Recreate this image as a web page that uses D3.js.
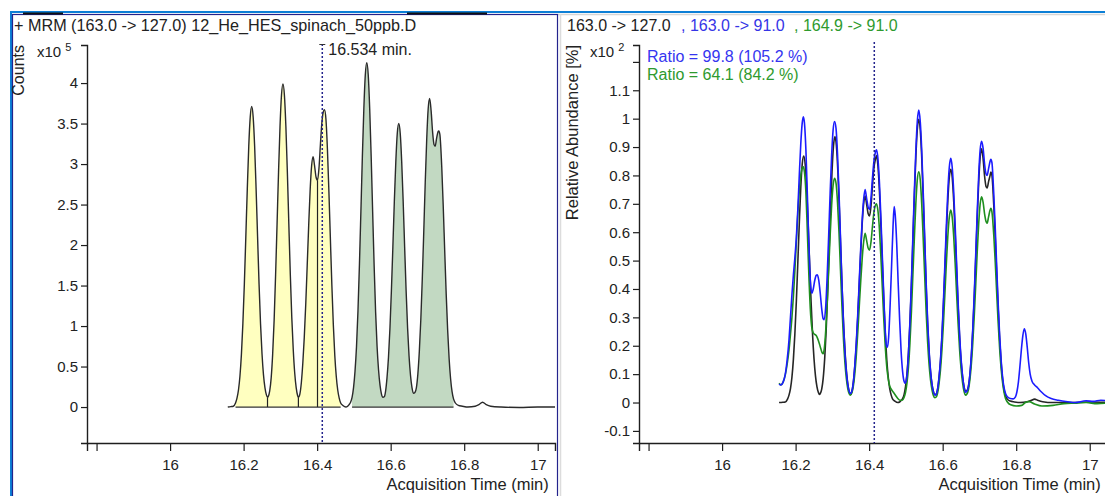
<!DOCTYPE html>
<html><head><meta charset="utf-8">
<script src="https://cdn.jsdelivr.net/npm/d3@7"></script>
<style>
html,body{margin:0;padding:0;background:#fff;}
svg{display:block;font-family:"Liberation Sans",Arial,sans-serif;}
</style></head><body>
<svg id="chart" width="1105" height="496"></svg>
<script>
// ---- Quantifier transition 163.0 -> 127.0, counts (x10^5) vs acquisition time (min)
const countsTrace = [
  [16.157,0.00],[16.165,0.005],[16.172,0.01],[16.178,0.05],[16.182,0.11],[16.186,0.21],[16.190,0.38],
  [16.194,0.65],[16.198,1.03],[16.202,1.52],[16.206,2.10],[16.210,2.69],[16.214,3.22],[16.218,3.58],
  [16.222,3.71],[16.226,3.58],[16.230,3.22],[16.234,2.69],[16.238,2.10],[16.242,1.52],[16.246,1.03],
  [16.250,0.66],[16.254,0.40],[16.258,0.24],[16.262,0.15],[16.265,0.12],
  [16.267,0.13],[16.271,0.20],[16.275,0.36],[16.279,0.65],[16.283,1.07],[16.287,1.63],[16.291,2.26],
  [16.295,2.90],[16.299,3.46],[16.303,3.85],[16.307,3.99],[16.311,3.85],[16.315,3.46],[16.319,2.90],
  [16.323,2.26],[16.327,1.64],[16.331,1.11],[16.335,0.71],[16.339,0.42],[16.343,0.24],[16.347,0.14],
  [16.349,0.12],[16.353,0.16],[16.357,0.30],[16.361,0.54],[16.365,0.86],[16.369,1.27],[16.373,1.75],
  [16.377,2.24],[16.381,2.68],[16.385,2.98],[16.389,3.09],[16.393,2.98],[16.397,2.84],[16.401,2.80],
  [16.405,2.95],[16.409,3.25],[16.413,3.52],[16.417,3.65],[16.420,3.67],[16.424,3.55],[16.428,3.18],
  [16.432,2.66],[16.436,2.08],[16.440,1.51],[16.444,1.02],[16.448,0.64],[16.452,0.38],[16.456,0.21],
  [16.460,0.11],[16.464,0.05],[16.470,0.02],[16.478,0.00],
  [16.483,0.01],[16.487,0.03],[16.491,0.06],[16.495,0.12],[16.499,0.24],[16.503,0.44],[16.507,0.74],
  [16.511,1.18],[16.515,1.75],[16.519,2.41],[16.523,3.09],[16.527,3.68],[16.531,4.10],[16.535,4.25],
  [16.539,4.10],[16.543,3.68],[16.547,3.09],[16.551,2.41],[16.555,1.75],[16.559,1.18],[16.563,0.75],
  [16.567,0.46],[16.571,0.27],[16.575,0.16],[16.579,0.12],
  [16.583,0.13],[16.586,0.19],[16.590,0.36],[16.594,0.61],[16.598,0.97],[16.602,1.44],[16.606,1.98],
  [16.610,2.54],[16.614,3.03],[16.618,3.38],[16.622,3.50],[16.626,3.38],[16.630,3.03],[16.634,2.54],
  [16.638,1.98],[16.642,1.44],[16.646,0.98],[16.650,0.63],[16.654,0.39],[16.658,0.24],[16.662,0.17],
  [16.666,0.18],[16.670,0.24],[16.674,0.41],[16.678,0.69],[16.682,1.08],[16.686,1.58],[16.690,2.16],
  [16.694,2.77],[16.698,3.30],[16.702,3.68],[16.706,3.81],[16.710,3.66],[16.714,3.40],[16.718,3.24],
  [16.721,3.22],[16.725,3.32],[16.729,3.40],[16.731,3.41],[16.734,3.36],[16.739,2.96],[16.743,2.48],
  [16.747,1.93],[16.751,1.40],[16.755,0.95],[16.759,0.60],[16.763,0.35],[16.767,0.19],[16.771,0.10],
  [16.776,0.05],[16.784,0.02],[16.795,0.01],[16.810,0.00],[16.830,0.01],[16.840,0.03],[16.850,0.06],
  [16.860,0.03],[16.872,0.01],[16.900,0.00],[16.950,-0.005],[17.000,0.00],[17.047,0.00]
];

// integrated regions (start, end) and drop-line split times
const groupA = [16.178, 16.464];
const groupB = [16.495, 16.771];
const dropTimes = [16.265, 16.349, 16.401];

const countsTicks = [0,0.5,1,1.5,2,2.5,3,3.5,4];
const countsTickLabels = ["0","0.5","1","1.5","2","2.5","3","3.5","4"];
const timeTicks = [15.8,16,16.2,16.4,16.6,16.8,17];
const timeTickLabels = ["","16","16.2","16.4","16.6","16.8","17"];
const abundanceTicks = [-0.1,0,0.1,0.2,0.3,0.4,0.5,0.6,0.7,0.8,0.9,1,1.1,1.2];
const abundanceTickLabels = ["-0.1","0","0.1","0.2","0.3","0.4","0.5","0.6","0.7","0.8","0.9","1","1.1",""];

const markerTime = 16.414;
const retentionLabel = "16.534 min.";
const sampleTitle = "+ MRM (163.0 -> 127.0) 12_He_HES_spinach_50ppb.D";
const transitions = ["163.0 -> 127.0", ", 163.0 -> 91.0", ", 164.9 -> 91.0"];
const ratioLabels = ["Ratio = 99.8 (105.2 %)", "Ratio = 64.1 (84.2 %)"];

// ---- Relative abundance (x10^2 %) of the three transitions
const quantRel = [
  [16.155,0.000],[16.165,0.001],[16.172,0.002],[16.178,0.012],[16.182,0.026],[16.186,0.049],[16.190,0.089],
  [16.194,0.153],[16.198,0.242],[16.202,0.357],[16.206,0.493],[16.210,0.631],[16.214,0.756],[16.218,0.840],
  [16.222,0.868],[16.226,0.840],[16.230,0.756],[16.234,0.631],[16.238,0.493],[16.242,0.357],[16.246,0.242],
  [16.250,0.155],[16.254,0.094],[16.258,0.056],[16.262,0.035],[16.265,0.028],
  [16.267,0.031],[16.271,0.047],[16.275,0.085],[16.279,0.153],[16.283,0.251],[16.287,0.383],[16.291,0.531],
  [16.295,0.681],[16.299,0.812],[16.303,0.904],[16.307,0.937],[16.311,0.904],[16.315,0.812],[16.319,0.681],
  [16.323,0.531],[16.327,0.385],[16.331,0.261],[16.335,0.167],[16.339,0.099],[16.343,0.056],[16.347,0.033],
  [16.349,0.028],[16.353,0.038],[16.357,0.070],[16.361,0.127],[16.365,0.202],[16.369,0.298],[16.373,0.411],
  [16.377,0.526],[16.381,0.629],[16.385,0.700],[16.389,0.727],[16.393,0.700],[16.397,0.667],[16.401,0.657],
  [16.405,0.692],[16.409,0.763],[16.413,0.826],[16.417,0.857],[16.420,0.870],[16.424,0.833],[16.428,0.746],
  [16.432,0.624],[16.436,0.488],[16.440,0.354],[16.444,0.239],[16.448,0.150],[16.452,0.089],[16.456,0.049],
  [16.460,0.026],[16.464,0.012],[16.470,0.005],[16.478,0.000],
  [16.483,0.002],[16.487,0.007],[16.491,0.014],[16.495,0.028],[16.499,0.056],[16.503,0.103],[16.507,0.174],
  [16.511,0.277],[16.515,0.411],[16.519,0.566],[16.523,0.725],[16.527,0.864],[16.531,0.962],[16.535,0.998],
  [16.539,0.962],[16.543,0.864],[16.547,0.725],[16.551,0.566],[16.555,0.411],[16.559,0.277],[16.563,0.176],
  [16.567,0.108],[16.571,0.063],[16.575,0.038],[16.579,0.028],
  [16.583,0.031],[16.586,0.045],[16.590,0.085],[16.594,0.143],[16.598,0.228],[16.602,0.338],[16.606,0.465],
  [16.610,0.596],[16.614,0.711],[16.618,0.793],[16.622,0.822],[16.626,0.793],[16.630,0.711],[16.634,0.596],
  [16.638,0.465],[16.642,0.338],[16.646,0.230],[16.650,0.148],[16.654,0.092],[16.658,0.056],[16.662,0.040],
  [16.666,0.042],[16.670,0.056],[16.674,0.096],[16.678,0.162],[16.682,0.254],[16.686,0.371],[16.690,0.507],
  [16.694,0.650],[16.698,0.775],[16.702,0.864],[16.706,0.894],[16.710,0.859],[16.714,0.798],[16.718,0.761],
  [16.721,0.756],[16.725,0.779],[16.729,0.800],[16.731,0.812],[16.734,0.800],[16.739,0.695],[16.743,0.582],
  [16.747,0.453],[16.751,0.329],[16.755,0.223],[16.759,0.141],[16.763,0.082],[16.767,0.045],[16.771,0.023],
  [16.776,0.012],[16.784,0.005],[16.795,0.002],[16.810,0.000],[16.830,0.003],[16.840,0.007],[16.850,0.012],
  [16.860,0.007],[16.872,0.003],[16.900,0.000],[16.950,0.000],[17.000,0.002],[17.050,0.000]
];

const qual1Rel = [
  [16.155,0.065],[16.160,0.062],[16.166,0.072],[16.172,0.100],[16.177,0.150],[16.182,0.220],[16.186,0.300],
  [16.190,0.380],[16.194,0.450],[16.198,0.510],[16.202,0.580],[16.206,0.680],[16.210,0.800],[16.214,0.910],
  [16.218,0.985],[16.221,1.007],[16.224,0.985],[16.228,0.890],[16.232,0.730],[16.236,0.560],[16.240,0.430],
  [16.244,0.385],[16.248,0.400],[16.252,0.430],[16.256,0.448],[16.259,0.450],[16.263,0.430],[16.267,0.385],
  [16.271,0.330],[16.275,0.295],[16.278,0.292],
  [16.282,0.340],[16.286,0.450],[16.290,0.590],[16.294,0.740],[16.298,0.870],[16.302,0.960],[16.306,0.990],
  [16.310,0.965],[16.314,0.875],[16.318,0.740],[16.322,0.580],[16.326,0.420],[16.330,0.285],[16.334,0.180],
  [16.338,0.108],[16.342,0.062],[16.346,0.038],[16.349,0.032],
  [16.353,0.040],[16.357,0.072],[16.361,0.130],[16.365,0.210],[16.369,0.310],[16.373,0.425],[16.377,0.540],
  [16.381,0.640],[16.385,0.715],[16.389,0.750],[16.393,0.720],[16.397,0.690],[16.401,0.680],[16.405,0.720],
  [16.409,0.790],[16.413,0.850],[16.417,0.882],[16.420,0.890],[16.424,0.858],[16.428,0.775],[16.432,0.650],
  [16.436,0.510],[16.440,0.370],[16.444,0.250],[16.447,0.200],[16.450,0.195],
  [16.453,0.230],[16.457,0.340],[16.461,0.480],[16.465,0.620],[16.468,0.690],[16.471,0.660],[16.475,0.560],
  [16.479,0.420],[16.483,0.290],[16.487,0.180],[16.491,0.110],[16.495,0.075],[16.498,0.068],
  [16.501,0.078],[16.504,0.110],[16.507,0.175],[16.511,0.285],[16.515,0.425],[16.519,0.585],[16.523,0.745],
  [16.527,0.885],[16.531,0.990],[16.535,1.030],[16.539,0.990],[16.543,0.890],[16.547,0.745],[16.551,0.585],
  [16.555,0.425],[16.559,0.290],[16.563,0.185],[16.567,0.112],[16.571,0.064],[16.575,0.036],[16.579,0.026],
  [16.583,0.030],[16.586,0.046],[16.590,0.088],[16.594,0.150],[16.598,0.238],[16.602,0.353],[16.606,0.485],
  [16.610,0.622],[16.614,0.743],[16.618,0.828],[16.622,0.860],[16.626,0.828],[16.630,0.743],[16.634,0.622],
  [16.638,0.485],[16.642,0.353],[16.646,0.240],[16.650,0.155],[16.654,0.095],[16.658,0.056],[16.662,0.036],
  [16.666,0.040],[16.670,0.056],[16.674,0.098],[16.678,0.166],[16.682,0.262],[16.686,0.384],[16.690,0.524],
  [16.694,0.670],[16.698,0.800],[16.702,0.890],[16.706,0.920],[16.710,0.895],[16.714,0.840],[16.718,0.805],
  [16.721,0.800],[16.725,0.825],[16.729,0.850],[16.731,0.857],[16.734,0.845],[16.739,0.735],[16.743,0.615],
  [16.747,0.478],[16.751,0.348],[16.755,0.236],[16.759,0.150],[16.763,0.090],[16.767,0.052],[16.771,0.032],
  [16.776,0.020],[16.784,0.014],[16.792,0.013],[16.798,0.020],[16.802,0.038],[16.806,0.072],[16.810,0.125],
  [16.814,0.185],[16.818,0.235],[16.822,0.260],[16.826,0.242],[16.830,0.195],[16.834,0.140],[16.838,0.100],
  [16.843,0.075],[16.850,0.062],[16.858,0.052],[16.868,0.038],[16.880,0.024],[16.895,0.014],[16.915,0.008],
  [16.940,0.003],[16.960,0.000],[16.990,0.006],[17.010,0.004],[17.030,0.008],[17.050,0.006]
];

const qual2Rel = [
  [16.155,0.068],[16.160,0.062],[16.166,0.072],[16.172,0.098],[16.177,0.135],[16.182,0.185],[16.186,0.240],
  [16.190,0.300],[16.194,0.375],[16.198,0.465],[16.202,0.565],[16.206,0.665],[16.210,0.745],[16.214,0.800],
  [16.218,0.826],[16.221,0.830],[16.224,0.812],[16.228,0.740],[16.232,0.600],[16.236,0.450],[16.240,0.330],
  [16.244,0.265],[16.248,0.245],[16.252,0.240],[16.256,0.236],[16.260,0.225],[16.264,0.210],[16.268,0.192],
  [16.272,0.176],[16.275,0.172],
  [16.278,0.190],[16.282,0.255],[16.286,0.355],[16.290,0.470],[16.294,0.590],[16.298,0.695],[16.302,0.765],
  [16.306,0.790],[16.310,0.772],[16.314,0.705],[16.318,0.600],[16.322,0.470],[16.326,0.340],[16.330,0.228],
  [16.334,0.143],[16.338,0.085],[16.342,0.048],[16.346,0.030],[16.349,0.026],
  [16.353,0.034],[16.357,0.058],[16.361,0.102],[16.365,0.165],[16.369,0.245],[16.373,0.336],[16.377,0.425],
  [16.381,0.505],[16.385,0.565],[16.389,0.596],[16.393,0.572],[16.397,0.545],[16.401,0.537],[16.405,0.565],
  [16.409,0.620],[16.413,0.670],[16.417,0.695],[16.420,0.700],[16.424,0.675],[16.428,0.610],[16.432,0.512],
  [16.436,0.400],[16.440,0.290],[16.444,0.195],[16.448,0.125],[16.452,0.082],[16.456,0.058],[16.461,0.045],
  [16.466,0.036],[16.472,0.025],[16.478,0.014],[16.484,0.008],[16.490,0.008],
  [16.495,0.018],[16.499,0.036],[16.503,0.070],[16.507,0.125],[16.511,0.210],[16.515,0.320],[16.519,0.450],
  [16.523,0.580],[16.527,0.700],[16.531,0.785],[16.535,0.813],[16.539,0.785],[16.543,0.700],[16.547,0.580],
  [16.551,0.450],[16.555,0.322],[16.559,0.215],[16.563,0.135],[16.567,0.080],[16.571,0.045],[16.575,0.024],
  [16.579,0.017],
  [16.583,0.020],[16.586,0.032],[16.590,0.065],[16.594,0.115],[16.598,0.185],[16.602,0.276],[16.606,0.382],
  [16.610,0.490],[16.614,0.585],[16.618,0.652],[16.622,0.678],[16.626,0.652],[16.630,0.585],[16.634,0.490],
  [16.638,0.382],[16.642,0.278],[16.646,0.188],[16.650,0.120],[16.654,0.072],[16.658,0.040],[16.662,0.026],
  [16.666,0.030],[16.670,0.045],[16.674,0.080],[16.678,0.135],[16.682,0.212],[16.686,0.308],[16.690,0.418],
  [16.694,0.530],[16.698,0.630],[16.702,0.700],[16.706,0.725],[16.710,0.705],[16.714,0.665],[16.718,0.638],
  [16.721,0.632],[16.725,0.655],[16.729,0.678],[16.731,0.684],[16.734,0.672],[16.739,0.590],[16.743,0.495],
  [16.747,0.385],[16.751,0.280],[16.755,0.190],[16.759,0.120],[16.763,0.070],[16.767,0.036],[16.771,0.014],
  [16.776,0.002],[16.785,-0.008],[16.800,-0.012],[16.815,-0.010],[16.825,0.000],[16.835,0.003],[16.850,-0.005],
  [16.870,-0.012],[16.900,-0.010],[16.930,-0.004],[16.960,-0.002],[16.990,0.000],[17.020,-0.004],[17.050,-0.002]
];

// ---------------------------------------------------------------------------
const svg = d3.select("#chart");
const ink = "#1e1e1e";
const navy = "#23238c";

// window chrome: outer blue rule, pane frames, tab marks
svg.append("line").attr("x1", 10).attr("x2", 1105).attr("y1", 12).attr("y2", 12)
  .attr("stroke", "#0c7fd6").attr("stroke-width", 2);
svg.append("line").attr("x1", 11).attr("x2", 11).attr("y1", 11).attr("y2", 496)
  .attr("stroke", "#0c7fd6").attr("stroke-width", 2);
svg.append("line").attr("x1", 558).attr("x2", 1105).attr("y1", 14.5).attr("y2", 14.5)
  .attr("stroke", "#d6d6d6").attr("stroke-width", 1.5);
svg.append("line").attr("x1", 560.5).attr("x2", 560.5).attr("y1", 14).attr("y2", 496)
  .attr("stroke", "#dcdcdc").attr("stroke-width", 1.5);
svg.append("rect").attr("x", 12.5).attr("y", 14.5).attr("width", 545).attr("height", 500)
  .attr("fill", "none").attr("stroke", navy).attr("stroke-width", 1.2);
[[23, 63], [407, 487]].forEach(([a, b]) => {
  svg.append("line").attr("x1", a).attr("x2", b).attr("y1", 13.5).attr("y2", 13.5)
    .attr("stroke", "#111").attr("stroke-width", 2);
});

// ---------------------------------------------------------------------------
// scales
const xL = d3.scaleLinear().domain([15.774, 17.047]).range([87, 555]);
const yL = d3.scaleLinear().domain([-0.444, 4.47]).range([443, 45]);
const xR = d3.scaleLinear().domain([15.774, 17.047]).range([639, 1107]);
const yR = d3.scaleLinear().domain([-0.1426, 1.2595]).range([443, 45]);

function styleAxis(g) {
  g.selectAll("path.domain").attr("stroke", ink).attr("stroke-width", 1.4);
  g.selectAll(".tick line").attr("stroke", ink).attr("stroke-width", 1.2);
  g.selectAll(".tick text").attr("fill", "#222").style("font-size", "15px")
    .style("font-family", "'Liberation Sans', Arial, sans-serif");
}

function drawAxes(x, y, yTicks, yLabels, xText) {
  const gx = svg.append("g").attr("transform", `translate(0,${y.range()[0]})`)
    .call(d3.axisBottom(x).tickValues(timeTicks)
      .tickFormat((d, i) => timeTickLabels[i]).tickSizeOuter(0).tickSize(8).tickPadding(8));
  styleAxis(gx);
  const gy = svg.append("g").attr("transform", `translate(${x.range()[0]},0)`)
    .call(d3.axisLeft(y).tickValues(yTicks)
      .tickFormat((d, i) => yLabels[i]).tickSizeOuter(0).tickSize(6).tickPadding(3));
  styleAxis(gy);
  svg.append("text").attr("x", x(17) + 11).attr("y", 490).attr("text-anchor", "end")
    .attr("fill", "#222").style("font-size", "16.5px").text(xText);
}

// ---------------------------------------------------------------------------
// left pane: counts chromatogram with integrated peak areas
drawAxes(xL, yL, countsTicks, countsTickLabels, "Acquisition Time (min)");

svg.append("defs").html(
  `<clipPath id="clipL"><rect x="88" y="40" width="468" height="402"/></clipPath>
   <clipPath id="clipR"><rect x="640" y="40" width="470" height="402"/></clipPath>`);

const curve = d3.curveMonotoneX;
const lineL = d3.line().x(d => xL(d[0])).y(d => yL(d[1])).curve(curve);
const areaL = d3.area().x(d => xL(d[0])).y0(yL(0)).y1(d => yL(d[1])).curve(curve);

const plotL = svg.append("g").attr("clip-path", "url(#clipL)");
[[groupA, "#ffffc0"], [groupB, "#c2d9c2"]].forEach(([win, fill]) => {
  const seg = countsTrace.filter(d => d[0] >= win[0] && d[0] <= win[1]);
  plotL.append("path").attr("d", areaL(seg)).attr("fill", fill).attr("stroke", "none");
  plotL.append("line").attr("x1", xL(win[0])).attr("x2", xL(win[1]))
    .attr("y1", yL(0)).attr("y2", yL(0)).attr("stroke", "#333").attr("stroke-width", 1.2);
});
dropTimes.forEach(t => {
  const p = countsTrace.find(d => d[0] === t);
  plotL.append("line").attr("x1", xL(t)).attr("x2", xL(t))
    .attr("y1", yL(0)).attr("y2", yL(p[1])).attr("stroke", "#222").attr("stroke-width", 1.2);
});
plotL.append("path").attr("d", lineL(countsTrace)).attr("fill", "none")
  .attr("stroke", "#2a2a2a").attr("stroke-width", 1.4);

// retention-time marker
svg.append("line").attr("x1", xL(markerTime)).attr("x2", xL(markerTime))
  .attr("y1", 44).attr("y2", 443).attr("stroke", navy).attr("stroke-width", 1.5)
  .attr("stroke-dasharray", "2,2");
svg.append("line").attr("x1", xL(markerTime) - 3).attr("x2", xL(markerTime) + 3)
  .attr("y1", 44.5).attr("y2", 44.5).attr("stroke", "#333").attr("stroke-width", 1);
svg.append("text").attr("x", xL(markerTime) + 6).attr("y", 55).attr("fill", "#222")
  .style("font-size", "16px").text(retentionLabel);

// pane title and axis captions
svg.append("text").attr("x", 14).attr("y", 31).attr("fill", "#222").style("font-size", "16.2px")
  .text(sampleTitle);
svg.append("text").attr("transform", "translate(24,45) rotate(-90)").attr("text-anchor", "end")
  .attr("fill", "#222").style("font-size", "16px").text("Counts");
const expL = svg.append("text").attr("x", 37).attr("y", 57).attr("fill", "#222").style("font-size", "15px");
expL.append("tspan").text("x10");
expL.append("tspan").attr("dx", 4).attr("dy", -6).style("font-size", "11px").text("5");

// ---------------------------------------------------------------------------
// right pane: overlaid transitions as relative abundance
drawAxes(xR, yR, abundanceTicks, abundanceTickLabels, "Acquisition Time (min)");

const lineR = d3.line().x(d => xR(d[0])).y(d => yR(d[1])).curve(curve);
const plotR = svg.append("g").attr("clip-path", "url(#clipR)");
[[quantRel, "#262626"], [qual2Rel, "#1f8f1f"], [qual1Rel, "#1c1cff"]].forEach(([s, c]) => {
  plotR.append("path").attr("d", lineR(s)).attr("fill", "none")
    .attr("stroke", c).attr("stroke-width", 1.6);
});

svg.append("line").attr("x1", xR(markerTime)).attr("x2", xR(markerTime))
  .attr("y1", 42).attr("y2", 443).attr("stroke", navy).attr("stroke-width", 1.5)
  .attr("stroke-dasharray", "2,2");

[[567, "#222"], [681, "#3535e6"], [794, "#2e9a2e"]].forEach(([x, c], i) => {
  svg.append("text").attr("x", x).attr("y", 31).attr("fill", c).style("font-size", "16px")
    .text(transitions[i]);
});

svg.append("text").attr("x", 647).attr("y", 62).attr("fill", "#3535f0").style("font-size", "16px")
  .text(ratioLabels[0]);
svg.append("text").attr("x", 647).attr("y", 80).attr("fill", "#2e9a2e").style("font-size", "16px")
  .text(ratioLabels[1]);

svg.append("text").attr("transform", "translate(578,45) rotate(-90)").attr("text-anchor", "end")
  .attr("fill", "#222").style("font-size", "16.5px").text("Relative Abundance [%]");
const expR = svg.append("text").attr("x", 590).attr("y", 57).attr("fill", "#222").style("font-size", "15px");
expR.append("tspan").text("x10");
expR.append("tspan").attr("dx", 4).attr("dy", -6).style("font-size", "11px").text("2");
</script>
</body></html>
